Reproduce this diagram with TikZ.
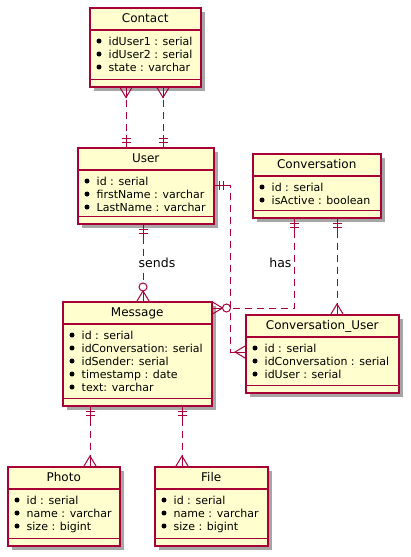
\documentclass[tikz,border=0pt]{standalone}
\usepackage{fontspec}
\setmainfont{DejaVu Sans}
\usetikzlibrary{positioning, calc, shadows}

\definecolor{erfill}{HTML}{FEFECE}
\definecolor{erred}{HTML}{A80036}

\tikzset{
  entity/.style={rectangle, draw=erred, fill=erfill, line width=1.5pt, inner sep=0pt, anchor=north west,
    drop shadow={shadow xshift=4pt, shadow yshift=-4pt, fill=black!35, opacity=1}},
  sepline/.style={draw=erred, line width=1.5pt},
  enttitle/.style={font=\fontsize{12}{14}\selectfont, text height=8.75pt, text depth=0pt, inner sep=0pt},
  attr/.style={font=\fontsize{11}{13}\selectfont, inner sep=0pt, anchor=base west},
  rellabel/.style={font=\fontsize{12.5}{14}\selectfont, inner sep=2pt},
  rel/.style={draw=erred, line width=1pt, dash pattern=on 7pt off 5pt},
  relend/.style={draw=erred, line width=1pt, solid},
  crowfoot/.pic={\draw[relend] (0,0) -- (0,10); \draw[relend] (-6,0) -- (0,10) -- (6,0);},
  zeromany/.pic={\draw[relend] (0,0) -- (0,10); \draw[relend] (-6,0) -- (0,10) -- (6,0);
    \draw[relend, fill=white] (0,14) circle (4);},
  onlyone/.pic={\draw[relend] (0,0) -- (0,12); \draw[relend] (-4.5,5) -- (4.5,5) (-4.5,9) -- (4.5,9);},
}

% entity box: name, x, y (north west), width, height, title, attributes
\newcommand{\erentity}[7]{%
  \node[entity, minimum width=#4, minimum height=#5] (#1) at (#2,#3) {};
  \draw[sepline] ([yshift=-23]#1.north west) -- ([yshift=-23]#1.north east);
  \draw[sepline] ([yshift=8]#1.south west) -- ([yshift=8]#1.south east);
  \node[enttitle] (#1-title) at ([yshift=-11.5]#1.north) {#6};
  \foreach \a [count=\i] in {#7} {
    \fill ([xshift=10, yshift={-34-13*(\i-1)}]#1.north west) circle (2.5);
    \node[attr] (#1-attr\i) at ([xshift=19.5, yshift={-38-13*(\i-1)}]#1.north west) {\a};
  }}

\begin{document}
\begin{tikzpicture}[x=1pt, y=1pt]
  \useasboundingbox (0,0) rectangle (411,-557);

  \erentity{contact}{89}{-7}{111}{79}{Contact}{idUser1 : serial, idUser2 : serial, state : varchar}
  \erentity{user}{77}{-147}{136}{76}{User}{id : serial, firstName : varchar, LastName : varchar}
  \erentity{conv}{252}{-153}{128}{64}{Conversation}{id : serial, isActive : boolean}
  \erentity{convuser}{245}{-314}{153}{78}{Conversation\_User}{id : serial, idConversation : serial, idUser : serial}
  \erentity{message}{62}{-301}{149}{104}{Message}{id : serial, idConversation: serial, idSender: serial, timestamp : date, text: varchar}
  \erentity{photo}{7}{-466}{112}{79}{Photo}{id : serial, name : varchar, size : bigint}
  \erentity{file}{154}{-466}{113}{79}{File}{id : serial, name : varchar, size : bigint}

  % Contact -- User
  \coordinate (cu1) at ([xshift=37]contact.south west);
  \coordinate (uc1) at ([xshift=49]user.north west);
  \coordinate (cu2) at ([xshift=74]contact.south west);
  \coordinate (uc2) at ([xshift=86]user.north west);
  \draw[rel] (cu1) -- (uc1);
  \draw[rel] (cu2) -- (uc2);
  \pic[rotate=180] at (cu1) {crowfoot};
  \pic[rotate=180] at (cu2) {crowfoot};
  \pic at (uc1) {onlyone};
  \pic at (uc2) {onlyone};

  % User sends Message
  \coordinate (um) at ([xshift=66]user.south west);
  \coordinate (mu) at ([xshift=81]message.north west);
  \draw[rel] (um) -- node[rellabel, fill=white, xshift=14] (sends) {sends} (mu);
  \pic[rotate=180] at (um) {onlyone};
  \pic at (mu) {zeromany};

  % User -- Conversation_User
  \coordinate (ucu) at ([yshift=-38]user.north east);
  \coordinate (cuu) at ([yshift=-38]convuser.north west);
  \draw[rel] (ucu) -- ++(16,0) |- (cuu);
  \pic[rotate=-90] at (ucu) {onlyone};
  \pic[rotate=90] at (cuu) {crowfoot};

  % Conversation has Message
  \coordinate (cm) at ([xshift=42]conv.south west);
  \coordinate (mc) at ([yshift=-7]message.north east);
  \draw[rel] (cm) |- node[rellabel, left, pos=0.25] (has) {has} (mc);
  \pic[rotate=180] at (cm) {onlyone};
  \pic[rotate=-90] at (mc) {zeromany};

  % Conversation -- Conversation_User
  \coordinate (ccu) at ([xshift=85]conv.south west);
  \coordinate (cuc) at ([xshift=92]convuser.north west);
  \draw[rel] (ccu) -- (cuc);
  \pic[rotate=180] at (ccu) {onlyone};
  \pic at (cuc) {crowfoot};

  % Message -- Photo, File
  \coordinate (mp) at ([xshift=28]message.south west);
  \coordinate (pm) at ([xshift=83]photo.north west);
  \coordinate (mf) at ([xshift=120]message.south west);
  \coordinate (fm) at ([xshift=28]file.north west);
  \draw[rel] (mp) -- (pm);
  \draw[rel] (mf) -- (fm);
  \pic[rotate=180] at (mp) {onlyone};
  \pic[rotate=180] at (mf) {onlyone};
  \pic at (pm) {crowfoot};
  \pic at (fm) {crowfoot};
\end{tikzpicture}
\end{document}
